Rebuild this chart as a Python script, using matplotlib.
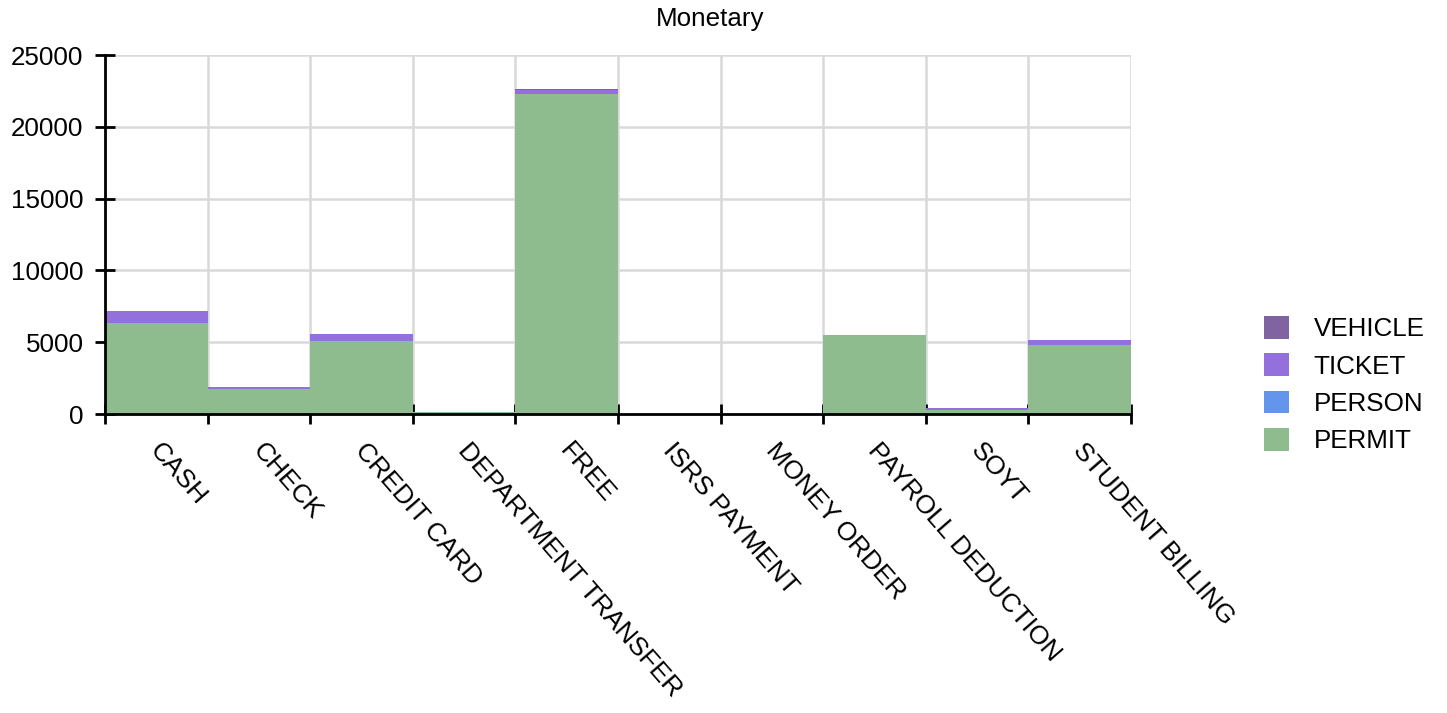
import matplotlib
matplotlib.use("Agg")
import matplotlib.pyplot as plt
import matplotlib.transforms as mtransforms
from matplotlib.patches import Patch
import numpy as np

plt.rcParams['font.family'] = ['Liberation Sans', 'DejaVu Sans']

categories = ["CASH", "CHECK", "CREDIT CARD", "DEPARTMENT TRANSFER", "FREE",
              "ISRS PAYMENT", "MONEY ORDER", "PAYROLL DEDUCTION", "SOYT", "STUDENT BILLING"]
permit = [6350, 1720, 5100, 120, 22300, 20, 10, 5520, 280, 4800]
person = [0, 0, 0, 0, 0, 0, 0, 0, 0, 0]
ticket = [850, 160, 470, 0, 280, 0, 0, 0, 140, 330]
vehicle = [0, 0, 0, 0, 60, 0, 0, 0, 0, 0]
yticks = [0, 5000, 10000, 15000, 20000, 25000]

series = [("PERMIT", permit, "#8FBC8F"),
          ("PERSON", person, "#6495ED"),
          ("TICKET", ticket, "#9370DB"),
          ("VEHICLE", vehicle, "#8064A2")]

W, H = 1447, 713
fig = plt.figure(figsize=(W / 100, H / 100), dpi=100)
ax = fig.add_axes([105 / W, 1 - 414 / H, (1131 - 105) / W, (414 - 55) / H])

x = np.arange(len(categories))
bottom = np.zeros(len(categories))
handles = []
for name, vals, col in series:
    v = np.array(vals, dtype=float)
    ax.bar(x, v, width=1.0, bottom=bottom, color=col, linewidth=0, zorder=2)
    bottom += v
    handles.append(Patch(facecolor=col, edgecolor='none', label=name))

ax.set_xlim(-0.5, len(categories) - 0.5)
ax.set_ylim(0, 25000)
ax.set_yticks(yticks)
ax.set_yticklabels([str(t) for t in yticks])

ax.set_xticks(x)
ax.set_xticklabels([])
ax.set_xticks(np.arange(len(categories) + 1) - 0.5, minor=True)
ax.tick_params(axis='x', which='major', length=0)
ax.tick_params(axis='x', which='minor', direction='inout', length=14, width=2, color='black')
ax.tick_params(axis='y', direction='inout', length=14.5, width=2, color='black', labelsize=18.7, pad=8.2)

blend = mtransforms.blended_transform_factory(ax.transData, ax.transAxes)
offset = mtransforms.ScaledTranslation(7 / 100, -25 / 100, fig.dpi_scale_trans)
for i, cat in enumerate(categories):
    ax.text(i, 0, cat, transform=blend + offset, rotation=-49, ha='left', va='top',
            rotation_mode='anchor', fontsize=19, clip_on=False)

ax.grid(True, axis='y', which='major', color='#d9d9d9', linewidth=1.8, zorder=0)
ax.grid(True, axis='x', which='minor', color='#d9d9d9', linewidth=1.8, zorder=0)
ax.set_axisbelow(True)
for s in ['top', 'right']:
    ax.spines[s].set_visible(False)
for s in ['left', 'bottom']:
    ax.spines[s].set_linewidth(2)
    ax.spines[s].set_zorder(5)

fig.text(710 / W, 1 - 19 / H, "Monetary", ha='center', va='center', fontsize=18.7)

leg = fig.legend(handles=handles[::-1], loc='upper left',
                 bbox_to_anchor=(1264 / W, 1 - 316 / H), frameon=False,
                 fontsize=18.7, handlelength=0.96, handleheight=0.96,
                 handletextpad=0.96, labelspacing=0.47, borderpad=0, borderaxespad=0)

fig.savefig("out.png", dpi=100)
